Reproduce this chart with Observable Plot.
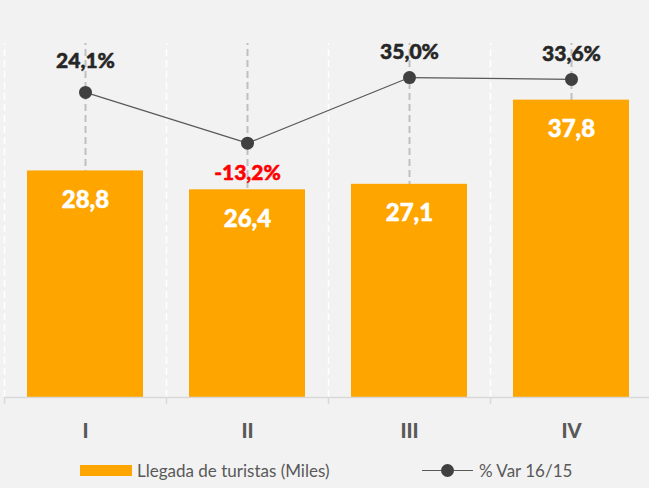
<!DOCTYPE html>
<html><head><meta charset="utf-8">
<script src="https://cdn.jsdelivr.net/npm/d3@7"></script>
<script src="https://cdn.jsdelivr.net/npm/@observablehq/plot@0.6"></script>
<style>
html,body{margin:0;padding:0;background:#f2f2f2;}
body{font-family:Lato,"Open Sans",sans-serif;width:649px;height:488px;overflow:hidden;}
#legend{position:relative;width:649px;height:36px;color:#595959;font-size:17px;}
#legend .item{position:absolute;top:0;height:36px;display:flex;align-items:center;}
#legend .swatch{width:52px;height:11px;background:#ffa500;margin-right:5px;}
#legend .lineSw{position:relative;width:51px;height:13px;margin-right:6px;}
#legend .lineSw:before{content:"";position:absolute;left:0;right:0;top:6px;height:1px;background:#595959;}
#legend .lineSw:after{content:"";position:absolute;left:19px;top:0;width:13px;height:13px;border-radius:50%;background:#404040;}
</style></head>
<body>
<div id="chart"></div>
<div id="legend">
  <div class="item" style="left:80px"><span class="swatch"></span><span id="lg1"></span></div>
  <div class="item" style="left:422px"><span class="lineSw"></span><span id="lg2"></span></div>
</div>
<script>
const quarters = ["I", "II", "III", "IV"];
const arrivals = [28.8, 26.4, 27.1, 37.8];
const variation = [24.1, -13.2, 35.0, 33.6];
const seriesNames = ["Llegada de turistas (Miles)", "% Var 16/15"];

const yDomain = [0, 45];
const pctDomain = [-200, 60];
const toY = p => (p - pctDomain[0]) / (pctDomain[1] - pctDomain[0]) * (yDomain[1] - yDomain[0]) + yDomain[0];
const fmt = v => v.toFixed(1).replace(".", ",");

const data = quarters.map((q, i) => ({q, arr: arrivals[i], pct: variation[i], yp: toY(variation[i])}));

const width = 649, height = 452;
const xRange = [4, 652];
const step = (xRange[1] - xRange[0]) / quarters.length;
const font = "Lato, 'Open Sans', sans-serif";
const heavy = {fontWeight: 900, strokeWidth: 0.5, paintOrder: "stroke"};

const chart = Plot.plot({
  width, height,
  marginTop: 43, marginBottom: 55, marginLeft: 4, marginRight: 0,
  style: {background: "#f2f2f2", fontFamily: font, overflow: "visible"},
  x: {domain: quarters, range: xRange, paddingInner: 0.284, paddingOuter: 0.142, label: null},
  y: {domain: yDomain, axis: null},
  marks: [
    Plot.ruleX(data, {x: "q", y1: yDomain[0], y2: yDomain[1], stroke: "#bfbfbf", strokeWidth: 2, strokeDasharray: "7,4"}),
    Plot.ruleX(data, {x: "q", dx: -step / 2, y1: yDomain[0], y2: yDomain[1], stroke: "#ffffff", strokeWidth: 1.5, strokeDasharray: "7,4"}),
    Plot.barY(data, {x: "q", y: "arr", fill: "#ffa500"}),
    Plot.ruleY([0], {stroke: "#d9d9d9", strokeWidth: 1.5}),
    Plot.ruleX(data, {x: "q", dx: -step / 2, y1: 0, y2: -7 / ((397 - 43) / 45), stroke: "#d9d9d9", strokeWidth: 1.5}),
    Plot.axisX({tickSize: 0, tickPadding: 26, fontSize: 20, fontWeight: 900, fill: "#595959"}),
    Plot.text(data, {x: "q", y: "arr", text: d => fmt(d.arr), dy: 29, fill: "white", stroke: "white", fontSize: 24, lineAnchor: "middle", ...heavy}),
    Plot.line(data, {x: "q", y: "yp", stroke: "#595959", strokeWidth: 1.2}),
    Plot.dot(data, {x: "q", y: "yp", r: 6.5, fill: "#404040"}),
    Plot.text(data.filter((d, i) => i === 0), {x: "q", y: "yp", text: d => fmt(d.pct) + "%", dy: -31, fill: "#262626", stroke: "#262626", fontSize: 21, lineAnchor: "middle", ...heavy}),
    Plot.text(data.filter((d, i) => i >= 2), {x: "q", y: "yp", text: d => fmt(d.pct) + "%", dy: -25, fill: "#262626", stroke: "#262626", fontSize: 21, lineAnchor: "middle", ...heavy}),
    Plot.text(data.filter(d => d.pct < 0), {x: "q", y: "yp", text: d => fmt(d.pct) + "%", dy: 30, fill: "#ff0000", stroke: "#ff0000", fontSize: 21, lineAnchor: "middle", ...heavy})
  ]
});
document.getElementById("chart").appendChild(chart);
document.getElementById("lg1").textContent = seriesNames[0];
document.getElementById("lg2").textContent = seriesNames[1];
</script>
</body></html>
